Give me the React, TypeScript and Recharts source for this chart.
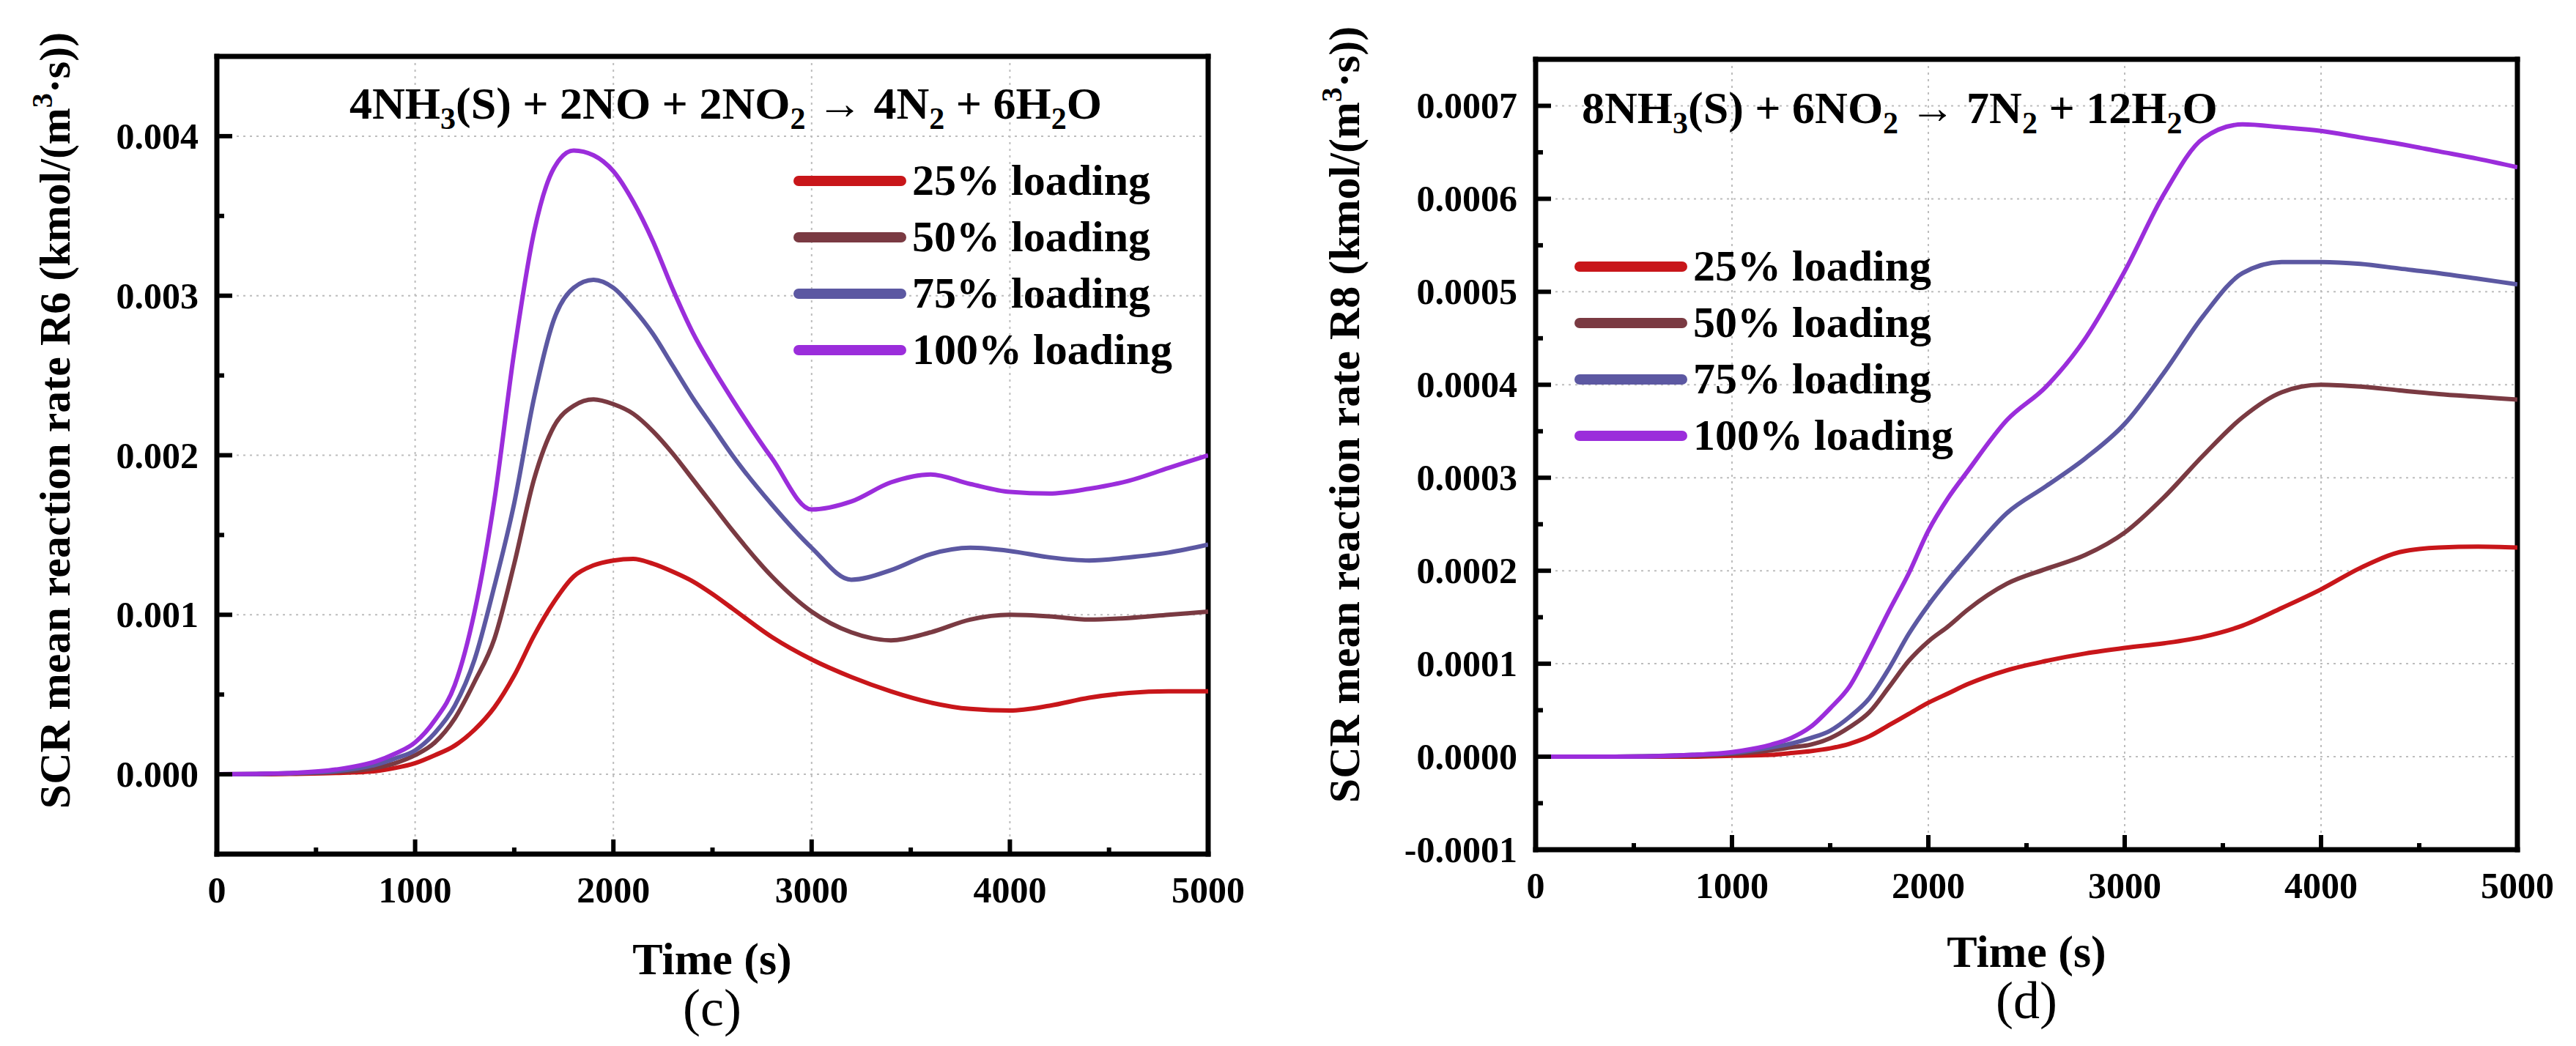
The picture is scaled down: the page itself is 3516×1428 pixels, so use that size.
import { CartesianGrid, Legend, Line, LineChart, ReferenceLine, XAxis, YAxis } from "recharts";

const SERIF = '"Liberation Serif", "Times New Roman", serif';

const seriesNames = ["25% loading", "50% loading", "75% loading", "100% loading"];
const seriesColors = ["#c8161a", "#7a3a42", "#5c58a2", "#9b2ddb"];
const seriesKeys = ["l25", "l50", "l75", "l100"];

// panel (c): R6
const timeC = [0, 200, 400, 600, 800, 900, 1000, 1100, 1200, 1300, 1400, 1500, 1600, 1700, 1800, 1900, 2000, 2100, 2200, 2300, 2400, 2500, 2600, 2800, 3000, 3200, 3400, 3600, 3800, 4000, 4200, 4400, 4600, 4800, 5000];
const r6Load25 = [0, 0, 0.000003, 0.000008, 0.00002, 0.00004, 0.00007, 0.00012, 0.00018, 0.00028, 0.00042, 0.00062, 0.00087, 0.00108, 0.00124, 0.00131, 0.00134, 0.00135, 0.00132, 0.00127, 0.00121, 0.00113, 0.00104, 0.00086, 0.00072, 0.00061, 0.00052, 0.00045, 0.00041, 0.0004, 0.00043, 0.00048, 0.00051, 0.00052, 0.00052];
const r6Load50 = [0, 0.000002, 0.000006, 0.000015, 0.00004, 0.00007, 0.00012, 0.0002, 0.00035, 0.00058, 0.00085, 0.00132, 0.00185, 0.00218, 0.00231, 0.00235, 0.00232, 0.00226, 0.00215, 0.00201, 0.00185, 0.00169, 0.00153, 0.00124, 0.00102, 0.00089, 0.00084, 0.00089, 0.00097, 0.001, 0.00099, 0.00097, 0.00098, 0.001, 0.00102];
const r6Load75 = [0, 0.000002, 0.000008, 0.00002, 0.00006, 0.0001, 0.00015, 0.00026, 0.00043, 0.00072, 0.00118, 0.0017, 0.00236, 0.00285, 0.00305, 0.0031, 0.00305, 0.00292, 0.00276, 0.00256, 0.00236, 0.00218, 0.002, 0.00169, 0.00142, 0.00122, 0.00128, 0.00138, 0.00142, 0.0014, 0.00136, 0.00134, 0.00136, 0.00139, 0.00144];
const r6Load100 = [0, 0.000003, 0.00001, 0.00003, 0.00008, 0.00013, 0.0002, 0.00034, 0.00056, 0.00102, 0.00172, 0.00265, 0.0034, 0.0038, 0.00391, 0.00388, 0.00378, 0.00359, 0.00334, 0.00304, 0.00277, 0.00255, 0.00235, 0.00198, 0.00166, 0.00171, 0.00183, 0.00188, 0.00182, 0.00177, 0.00176, 0.00179, 0.00184, 0.00192, 0.002];

// panel (d): R8
const timeD = [0, 400, 800, 1000, 1200, 1300, 1400, 1500, 1600, 1700, 1800, 1900, 2000, 2100, 2200, 2400, 2600, 2800, 3000, 3200, 3400, 3600, 3800, 4000, 4200, 4400, 4600, 4800, 5000];
const r8Load25 = [0, 0, 0, 0.000001, 0.000002, 0.000004, 0.000006, 0.000009, 0.000014, 0.000022, 0.000034, 0.000046, 0.000058, 0.000068, 0.000078, 0.000093, 0.000103, 0.000111, 0.000117, 0.000122, 0.000129, 0.000141, 0.00016, 0.00018, 0.000203, 0.00022, 0.000225, 0.000226, 0.000225];
const r8Load50 = [0, 0, 0.000001, 0.000003, 0.000007, 0.00001, 0.000013, 0.00002, 0.000032, 0.000048, 0.000075, 0.000103, 0.000124, 0.00014, 0.000158, 0.000186, 0.000202, 0.000217, 0.000241, 0.000279, 0.000324, 0.000365, 0.000392, 0.0004, 0.000398, 0.000394, 0.00039, 0.000387, 0.000384];
const r8Load75 = [0, 0, 0.000002, 0.000004, 0.00001, 0.000014, 0.00002, 0.000028, 0.000043, 0.000063, 0.000095, 0.000132, 0.000163, 0.00019, 0.000215, 0.000262, 0.000291, 0.000321, 0.000358, 0.000413, 0.000474, 0.00052, 0.000532, 0.000532, 0.00053, 0.000525, 0.00052, 0.000514, 0.000508];
const r8Load100 = [0, 0, 0.000002, 0.000005, 0.000013, 0.00002, 0.000032, 0.000052, 0.000076, 0.000115, 0.000157, 0.000197, 0.000243, 0.000278, 0.000307, 0.000362, 0.000398, 0.00045, 0.000522, 0.000605, 0.000665, 0.00068, 0.000677, 0.000673, 0.000666, 0.000659, 0.000651, 0.000643, 0.000634];

const timeTicks = [0, 500, 1000, 1500, 2000, 2500, 3000, 3500, 4000, 4500, 5000];
const timeGrid = [1000, 2000, 3000, 4000];
const r6Ticks = [0, 0.0005, 0.001, 0.0015, 0.002, 0.0025, 0.003, 0.0035, 0.004];
const r6Grid = [0, 0.001, 0.002, 0.003, 0.004];
const r8Ticks = [-0.0001, -0.00005, 0, 0.00005, 0.0001, 0.00015, 0.0002, 0.00025, 0.0003, 0.00035, 0.0004, 0.00045, 0.0005, 0.00055, 0.0006, 0.00065, 0.0007];
const r8Grid = [0, 0.0001, 0.0002, 0.0003, 0.0004, 0.0005, 0.0006, 0.0007];

const dataC = timeC.map((t, i) => ({ t, l25: r6Load25[i], l50: r6Load50[i], l75: r6Load75[i], l100: r6Load100[i] }));
const dataD = timeD.map((t, i) => ({ t, l25: r8Load25[i], l50: r8Load50[i], l75: r8Load75[i], l100: r8Load100[i] }));

const isMajor = (v: number, step: number) => Math.abs(v / step - Math.round(v / step)) < 1e-6;

const xTick = (props: any) => {
  const { x, y, payload } = props;
  const major = isMajor(payload.value, 1000);
  return (
    <g>
      <line x1={x} x2={x} y1={y} y2={y - (major ? 20 : 9)} stroke="#000" strokeWidth={6} />
      {major && (
        <text x={x} y={y + 66} textAnchor="middle" fontFamily={SERIF} fontWeight="bold" fontSize={50} fill="#000">
          {payload.value}
        </text>
      )}
    </g>
  );
};

const makeYTick = (step: number, digits: number, bottom: number) => (props: any) => {
  const { x, y, payload } = props;
  const v = payload.value;
  const major = isMajor(v, step);
  const atAxis = Math.abs(v - bottom) < 1e-9;
  return (
    <g>
      {!atAxis && <line x1={x} x2={x + (major ? 21 : 10)} y1={y} y2={y} stroke="#000" strokeWidth={6} />}
      {major && (
        <text x={x - 25} y={y + 17} textAnchor="end" fontFamily={SERIF} fontWeight="bold" fontSize={50} fill="#000">
          {v.toFixed(digits)}
        </text>
      )}
    </g>
  );
};

// legend drawn in series order (Recharts would sort it by name)
const legendContent = () => (
  <div style={{ fontFamily: SERIF, fontWeight: "bold", fontSize: 60, color: "#000" }}>
    {seriesNames.map((name, i) => (
      <div key={name} style={{ display: "flex", alignItems: "center", height: 77, whiteSpace: "nowrap" }}>
        <svg width={154} height={20} style={{ display: "block" }}>
          <line x1={7} x2={147} y1={10} y2={10} stroke={seriesColors[i]} strokeWidth={14} strokeLinecap="round" />
        </svg>
        <span style={{ marginLeft: 8, lineHeight: "77px" }}>{name}</span>
      </div>
    ))}
  </div>
);

const textStyle = { fontFamily: SERIF, fontWeight: "bold", fill: "#000" } as const;

function Panel(props: {
  data: any[];
  yDomain: [number, number];
  yTicks: number[];
  yGrid: number[];
  yStep: number;
  yDigits: number;
  margin: { top: number; right: number; bottom: number; left: number };
  legendPos: { left: number; top: number };
  yLabel: { x: number; y: number; rate: string };
  xLabel: { x: number; y: number; tag: string; tagY: number };
  equation: React.ReactNode;
}) {
  const { data, yDomain, margin } = props;
  return (
    <LineChart width={1758} height={1428} data={data} margin={margin}>
      <CartesianGrid
        horizontalValues={props.yGrid}
        verticalValues={timeGrid}
        stroke="#bdbdbd"
        strokeWidth={2}
        strokeDasharray="3 6"
      />
      <XAxis
        dataKey="t"
        type="number"
        domain={[0, 5000]}
        ticks={timeTicks}
        interval={0}
        allowDataOverflow
        height={100}
        tickSize={0}
        tickMargin={0}
        tickLine={false}
        axisLine={{ stroke: "#000", strokeWidth: 7, strokeLinecap: "square" }}
        tick={xTick}
      />
      <YAxis
        type="number"
        domain={yDomain}
        ticks={props.yTicks}
        interval={0}
        allowDataOverflow
        width={150}
        tickSize={0}
        tickMargin={0}
        tickLine={false}
        axisLine={{ stroke: "#000", strokeWidth: 7, strokeLinecap: "square" }}
        tick={makeYTick(props.yStep, props.yDigits, yDomain[0])}
      />
      <ReferenceLine x={5000} stroke="#000" strokeWidth={7} strokeLinecap="square" />
      <ReferenceLine y={yDomain[1]} stroke="#000" strokeWidth={7} strokeLinecap="square" />
      {seriesKeys.map((k, i) => (
        <Line
          key={k}
          type="monotone"
          dataKey={k}
          name={seriesNames[i]}
          stroke={seriesColors[i]}
          strokeWidth={6}
          dot={false}
          activeDot={false}
          isAnimationActive={false}
        />
      ))}
      <Legend
        layout="vertical"
        align="center"
        verticalAlign="middle"
        content={legendContent}
        wrapperStyle={{ left: props.legendPos.left, top: props.legendPos.top, width: 700, height: 308 }}
      />
      {props.equation}
      <text
        x={props.yLabel.x}
        y={props.yLabel.y}
        transform={`rotate(-90 ${props.yLabel.x} ${props.yLabel.y})`}
        textAnchor="middle"
        fontSize={60}
        {...textStyle}
      >
        <tspan>{`SCR mean reaction rate ${props.yLabel.rate} (kmol/(m`}</tspan>
        <tspan fontSize={40} dy={-24}>3</tspan>
        <tspan dy={24}>·s))</tspan>
      </text>
      <text x={props.xLabel.x} y={props.xLabel.y} textAnchor="middle" fontSize={62} {...textStyle}>
        Time (s)
      </text>
      <text x={props.xLabel.x} y={props.xLabel.tagY} textAnchor="middle" fontSize={72} fontFamily={SERIF} fill="#000">
        {props.xLabel.tag}
      </text>
    </LineChart>
  );
}

export default function App() {
  const eqC = (
    <text x={477} y={162} fontSize={62} {...textStyle}>
      <tspan>4NH</tspan>
      <tspan fontSize={42} dy={14}>3</tspan>
      <tspan dy={-14}>(S) + 2NO + 2NO</tspan>
      <tspan fontSize={42} dy={14}>2</tspan>
      <tspan dy={-14}> → 4N</tspan>
      <tspan fontSize={42} dy={14}>2</tspan>
      <tspan dy={-14}> + 6H</tspan>
      <tspan fontSize={42} dy={14}>2</tspan>
      <tspan dy={-14}>O</tspan>
    </text>
  );
  const eqD = (
    <text x={401} y={168} fontSize={62} {...textStyle}>
      <tspan>8NH</tspan>
      <tspan fontSize={42} dy={14}>3</tspan>
      <tspan dy={-14}>(S) + 6NO</tspan>
      <tspan fontSize={42} dy={14}>2</tspan>
      <tspan dy={-14}> → 7N</tspan>
      <tspan fontSize={42} dy={14}>2</tspan>
      <tspan dy={-14}> + 12H</tspan>
      <tspan fontSize={42} dy={14}>2</tspan>
      <tspan dy={-14}>O</tspan>
    </text>
  );
  return (
    <div style={{ position: "absolute", left: 0, top: 0, width: 3516, height: 1428, background: "#fff" }}>
      <div style={{ position: "absolute", left: 0, top: 0 }}>
        <Panel
          data={dataC}
          yDomain={[-0.0005, 0.0045]}
          yTicks={r6Ticks}
          yGrid={r6Grid}
          yStep={0.001}
          yDigits={3}
          margin={{ top: 77, right: 109, bottom: 162, left: 146 }}
          legendPos={{ left: 1083, top: 208 }}
          yLabel={{ x: 95, y: 574, rate: "R6" }}
          xLabel={{ x: 972, y: 1330, tag: "(c)", tagY: 1400 }}
          equation={eqC}
        />
      </div>
      <div style={{ position: "absolute", left: 1758, top: 0 }}>
        <Panel
          data={dataD}
          yDomain={[-0.0001, 0.00075]}
          yTicks={r8Ticks}
          yGrid={r8Grid}
          yStep={0.0001}
          yDigits={4}
          margin={{ top: 81, right: 80, bottom: 168, left: 188 }}
          legendPos={{ left: 391, top: 325 }}
          yLabel={{ x: 97, y: 566, rate: "R8" }}
          xLabel={{ x: 1008, y: 1320, tag: "(d)", tagY: 1390 }}
          equation={eqD}
        />
      </div>
    </div>
  );
}
